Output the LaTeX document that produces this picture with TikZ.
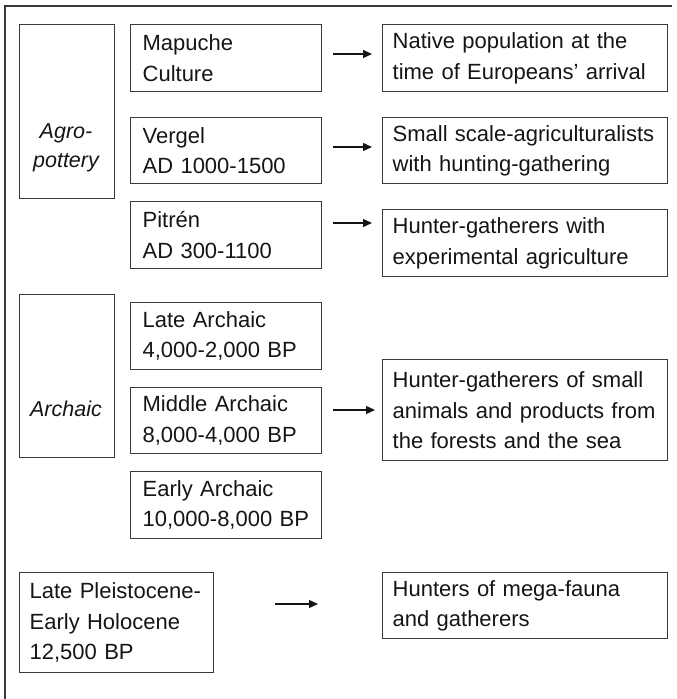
\documentclass[tikz,border=0pt]{standalone}
\usepackage{fontspec}
\setmainfont{Liberation Sans}
\usetikzlibrary{arrows.meta}
\definecolor{ink}{HTML}{151515}
\definecolor{edge}{HTML}{3A3A3A}
\begin{document}
\begin{tikzpicture}[x=1pt,y=-1pt,
  box/.style={draw=edge, line width=1.3pt, anchor=north west, inner xsep=10pt, inner ysep=0pt,
    align=left, text=ink, font=\fontsize{22}{30.5}\selectfont},
  framebox/.style={draw=edge, line width=1.3pt, anchor=north west, inner sep=0pt},
  lbl/.style={align=center, text=ink, font=\fontsize{21.5}{28.5}\selectfont\itshape},
  arr/.style={draw=ink, line width=1.3pt, -{Triangle[length=9pt,width=8pt]}},
  frameline/.style={draw=edge, line width=2pt}]
\useasboundingbox (0,0) rectangle (677,699);
% outer frame (left and top sides)
\coordinate (fbl) at (5,699);
\coordinate (ftl) at (5,6);
\coordinate (ftr) at (672,6);
\draw[frameline] (fbl) -- (ftl) -- (ftr);

% period boxes
\node[framebox, minimum width=95pt, minimum height=174pt] (agro) at (19,24) {};
\node[lbl] (agrol) at (66,148) {Agro-\\pottery};
\node[framebox, minimum width=95pt, minimum height=163pt] (archaic) at (19,294) {};
\node[lbl] (archaicl) at (66,409) {Archaic};

% culture boxes
\node[box, inner xsep=12pt, text width=167pt, minimum height=67pt] (mapuche) at (130,24) {Mapuche\\Culture};
\node[box, inner xsep=12pt, text width=167pt, minimum height=66pt] (vergel) at (130,117) {Vergel\\AD 1000-1500};
\node[box, inner xsep=12pt, text width=167pt, minimum height=67pt] (pitren) at (130,201) {Pitrén\\AD 300-1100};
\node[box, inner xsep=12pt, text width=167pt, minimum height=67pt] (late) at (130,302) {Late Archaic\\4,000-2,000 BP};
\node[box, inner xsep=12pt, text width=167pt, minimum height=66pt] (middle) at (130,387) {Middle Archaic\\8,000-4,000 BP};
\node[box, inner xsep=12pt, text width=167pt, minimum height=67pt] (early) at (130,471) {Early Archaic\\10,000-8,000 BP};
\node[box, text width=174pt, minimum height=100pt] (pleist) at (19,572) {Late~Pleistocene-\\Early Holocene\\12,500 BP};

% description boxes
\node[box, text width=265pt, minimum height=67pt] (native) at (382,24) {Native population at the\\time of Europeans’ arrival};
\node[box, text width=265pt, minimum height=66pt] (small) at (382,117) {Small~scale-agriculturalists\\with hunting-gathering};
\node[box, text width=265pt, minimum height=67pt] (hgwith) at (382,209) {Hunter-gatherers with\\experimental agriculture};
\node[box, text width=265pt, minimum height=101pt] (hgsmall) at (382,359) {Hunter-gatherers~of~small\\animals~and~products~from\\the forests and the sea};
\node[box, text width=265pt, minimum height=66pt] (hunters) at (382,572) {Hunters of mega-fauna\\and gatherers};

% arrow levels
\coordinate (y1) at (0,54);
\coordinate (y2) at (0,147);
\coordinate (y3) at (0,223);
\coordinate (y4) at (0,410);
\coordinate (y5) at (0,604);
\draw[arr, shorten <=11pt, shorten >=10pt] (mapuche.east |- y1) -- (native.west |- y1);
\draw[arr, shorten <=11pt, shorten >=10pt] (vergel.east |- y2) -- (small.west |- y2);
\draw[arr, shorten <=11pt, shorten >=10pt] (pitren.east |- y3) -- (hgwith.west |- y3);
\draw[arr, shorten <=11pt, shorten >=7pt] (middle.east |- y4) -- (hgsmall.west |- y4);
\draw[arr, shorten <=61pt, shorten >=64pt] (pleist.east |- y5) -- (hunters.west |- y5);
\end{tikzpicture}
\end{document}
